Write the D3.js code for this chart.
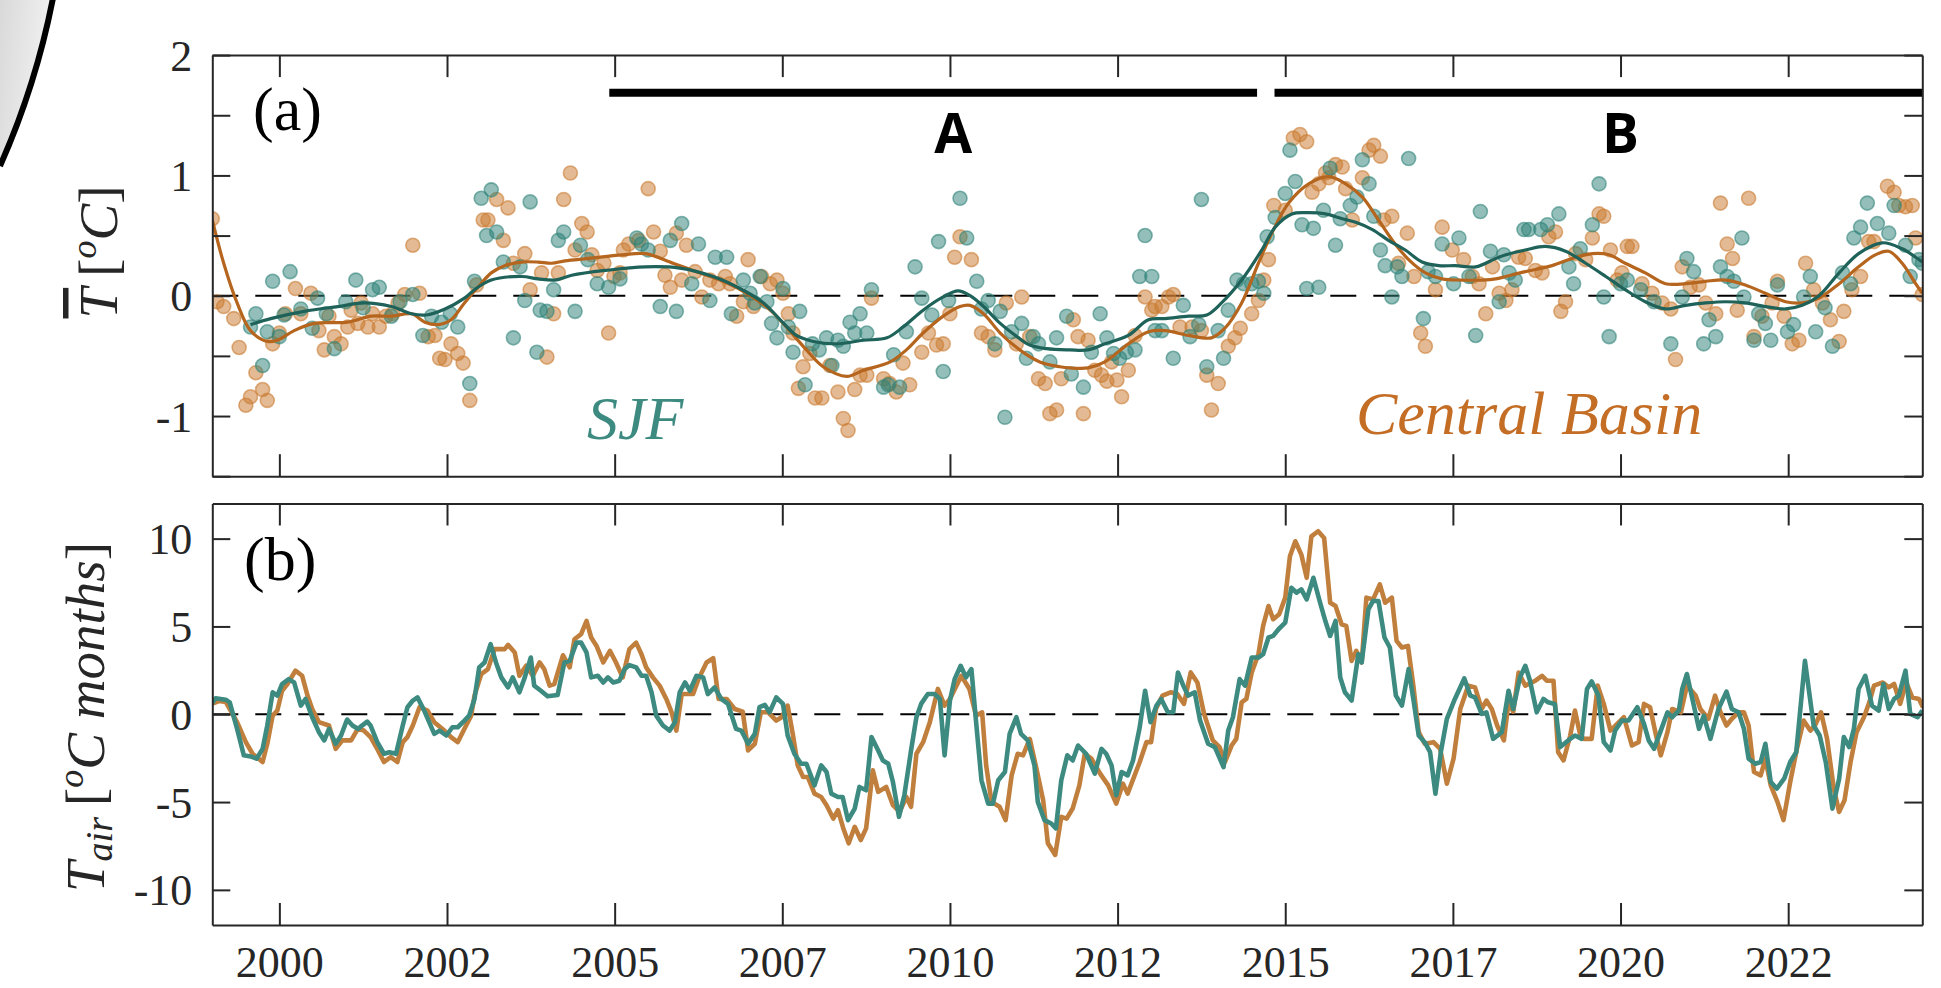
<!DOCTYPE html>
<html>
<head>
<meta charset="utf-8">
<script src="https://cdn.jsdelivr.net/npm/d3@7"></script>
<style>
  html, body { margin: 0; padding: 0; background: #ffffff; }
  svg { display: block; }
  svg text { font-family: "Liberation Serif"; }
</style>
</head>
<body>
<svg id="chart" width="1941" height="988"></svg>
<script>
// ---------------- DATA ----------------
const xTickValues = [2000, 2002.5, 2005, 2007.5, 2010, 2012.5, 2015, 2017.5, 2020, 2022.5];
const xTickLabels = ["2000", "2002", "2005", "2007", "2010", "2012", "2015", "2017", "2020", "2022"];
const aTickValues = [-1.5, -1, -0.5, 0, 0.5, 1, 1.5, 2];
const aTickLabels = ["", "-1", "", "0", "", "1", "", "2"];
const bTickValues = [-10, -5, 0, 5, 10];
const bTickLabels = ["-10", "-5", "0", "5", "10"];

const periodNames = ["A", "B"];
const periodStart = [2004.92, 2014.84];
const periodEnd = [2014.58, 2024.5];
const periodLabelAt = [2010.05, 2020.0];

// panel (a) scatter: Central Basin [year, T anomaly]
const cbPoints = [
[1999.00,0.64],[1999.07,-0.05],[1999.17,-0.09],[1999.32,-0.19],[1999.40,-0.43],[1999.50,-0.91],[1999.57,-0.84],[1999.65,-0.64],[1999.75,-0.78],[1999.82,-0.87],[1999.90,-0.40],[2000.00,-0.31],[2000.09,-0.15],[2000.24,0.06],[2000.32,-0.15],[2000.47,0.02],[2000.59,-0.29],[2000.67,-0.45],[2000.74,-0.17],[2000.82,-0.34],[2000.92,-0.40],[2001.02,-0.26],[2001.07,-0.12],[2001.17,-0.23],[2001.22,-0.06],[2001.32,-0.26],[2001.39,-0.15],[2001.49,-0.26],[2001.59,-0.17],[2001.69,-0.15],[2001.77,-0.06],[2001.87,0.01],[2001.99,0.42],[2002.09,0.02],[2002.22,-0.34],[2002.32,-0.33],[2002.39,-0.52],[2002.47,-0.53],[2002.56,-0.40],[2002.66,-0.48],[2002.74,-0.56],[2002.84,-0.87],[2002.94,0.09],[2003.04,0.63],[2003.11,0.63],[2003.24,0.80],[2003.34,0.46],[2003.41,0.73],[2003.49,0.27],[2003.66,0.35],[2003.74,0.05],[2003.91,0.19],[2003.99,-0.51],[2004.09,-0.15],[2004.16,0.19],[2004.24,0.80],[2004.34,1.02],[2004.41,0.38],[2004.51,0.60],[2004.59,0.53],[2004.66,0.34],[2004.74,0.21],[2004.84,0.27],[2004.91,-0.31],[2004.99,0.16],[2005.08,0.19],[2005.13,0.38],[2005.21,0.43],[2005.36,0.46],
[2005.50,0.89],[2005.58,0.53],[2005.68,0.37],[2005.75,0.17],[2005.83,0.07],[2005.92,0.52],[2006.00,0.13],[2006.07,0.42],[2006.20,0.20],[2006.30,-0.01],[2006.42,0.13],[2006.55,0.10],[2006.65,0.16],[2006.72,0.10],[2006.82,-0.17],[2006.92,-0.05],[2006.99,0.30],[2007.07,-0.09],[2007.19,0.16],[2007.32,0.10],[2007.42,0.13],[2007.51,0.02],[2007.59,-0.15],[2007.66,-0.31],[2007.74,-0.77],[2007.81,-0.59],[2007.91,-0.48],[2007.99,-0.85],[2008.09,-0.85],[2008.21,-0.58],[2008.33,-0.80],[2008.41,-1.02],[2008.48,-1.12],[2008.58,-0.78],[2008.66,-0.66],[2008.76,-0.66],[2008.83,-0.02],[2009.01,-0.69],[2009.10,-0.73],[2009.20,-0.80],[2009.30,-0.56],[2009.40,-0.74],[2009.58,-0.47],[2009.68,-0.31],[2009.80,-0.41],[2009.90,-0.40],[2010.00,-0.15],[2010.07,0.32],[2010.15,0.49],[2010.32,0.30],[2010.47,-0.31],[2010.57,-0.34],[2010.67,-0.45],[2010.84,-0.06],[2010.99,-0.40],[2011.07,-0.01],[2011.19,-0.34],[2011.32,-0.69],[2011.42,-0.73],[2011.49,-0.98],[2011.59,-0.95],[2011.66,-0.69],
[2011.84,-0.20],[2011.91,-0.34],[2011.99,-0.98],[2012.06,-0.37],[2012.16,-0.62],[2012.26,-0.66],[2012.34,-0.71],[2012.41,-0.55],[2012.49,-0.70],[2012.56,-0.84],[2012.66,-0.62],[2012.76,-0.33],[2012.91,-0.01],[2013.01,-0.12],[2013.06,-0.09],[2013.16,-0.09],[2013.26,-0.01],[2013.33,0.01],[2013.43,-0.26],[2013.61,-0.26],[2013.75,-0.29],[2013.83,-0.66],[2013.90,-0.95],[2014.00,-0.73],[2014.15,-0.42],[2014.25,-0.35],[2014.33,-0.27],[2014.50,-0.15],[2014.60,-0.04],[2014.68,0.13],[2014.75,0.30],[2014.83,0.75],[2015.00,0.71],[2015.12,1.31],[2015.22,1.34],[2015.32,1.28],[2015.40,0.86],[2015.50,0.93],[2015.60,1.02],[2015.65,0.98],[2015.75,1.09],[2015.85,1.07],[2015.90,0.89],[2016.00,0.63],[2016.15,0.98],[2016.25,1.21],[2016.32,1.25],[2016.42,1.16],[2016.47,0.63],[2016.59,0.66],[2016.69,0.27],[2016.82,0.52],[2016.92,0.16],[2017.02,-0.31],[2017.09,-0.42],[2017.24,0.05],[2017.34,0.57],[2017.49,0.38],[2017.66,0.30],[2017.79,0.16],[2017.89,0.10],[2017.99,-0.15],[2018.09,0.24],
[2018.19,0.02],[2018.29,-0.04],[2018.38,0.05],[2018.48,0.32],[2018.58,0.31],[2018.73,0.21],[2018.83,0.19],[2018.93,0.49],[2019.03,0.53],[2019.11,-0.13],[2019.18,-0.05],[2019.33,0.35],[2019.48,0.30],[2019.58,0.48],[2019.68,0.68],[2019.75,0.66],[2019.85,0.38],[2019.95,0.13],[2020.02,0.19],[2020.10,0.41],[2020.17,0.41],[2020.32,0.10],[2020.47,0.02],[2020.62,-0.06],[2020.75,-0.11],[2020.82,-0.53],[2020.92,0.24],[2021.04,0.07],[2021.17,0.09],[2021.27,-0.06],[2021.42,-0.15],[2021.49,0.77],[2021.59,0.43],[2021.67,0.31],[2021.74,-0.12],[2021.91,0.81],[2021.99,-0.34],[2022.11,-0.17],[2022.26,-0.06],[2022.34,0.12],[2022.44,-0.17],[2022.56,-0.40],[2022.66,-0.37],[2022.76,0.27],[2022.88,0.05],[2023.01,-0.06],[2023.13,-0.20],[2023.26,-0.38],[2023.33,-0.13],[2023.45,0.05],[2023.58,0.16],[2023.70,0.45],[2023.78,0.45],[2023.98,0.91],[2024.08,0.86],[2024.15,0.75],[2024.25,0.74],[2024.35,0.75],[2024.40,0.48],[2024.50,0.01]
];

// panel (a) scatter: SJF [year, T anomaly]
const sjfPoints = [
[1999.57,-0.26],[1999.65,-0.15],[1999.75,-0.58],[1999.82,-0.30],[1999.90,0.12],[2000.00,-0.34],[2000.07,-0.16],[2000.16,0.20],[2000.32,-0.11],[2000.49,-0.27],[2000.57,-0.02],[2000.70,-0.15],[2000.82,-0.44],[2000.99,-0.05],[2001.14,0.13],[2001.25,-0.10],[2001.39,0.05],[2001.49,0.07],[2001.67,-0.17],[2001.80,-0.05],[2001.99,0.01],[2002.14,-0.33],[2002.27,-0.17],[2002.42,-0.22],[2002.55,-0.15],[2002.66,-0.26],[2002.84,-0.73],[2002.91,0.12],[2003.01,0.81],[2003.09,0.50],[2003.16,0.88],[2003.24,0.53],[2003.34,0.28],[2003.49,-0.35],[2003.59,0.24],[2003.66,-0.04],[2003.74,0.78],[2003.84,-0.47],[2003.89,-0.12],[2003.99,-0.13],[2004.09,0.05],[2004.16,0.46],[2004.24,0.53],[2004.41,-0.13],[2004.49,0.42],[2004.60,0.30],[2004.74,0.10],[2004.91,0.07],[2005.08,0.14],[2005.33,0.48],
[2005.40,0.43],[2005.50,0.38],[2005.68,-0.09],[2005.83,0.46],[2005.92,-0.13],[2006.00,0.60],[2006.15,0.10],[2006.25,0.43],[2006.42,-0.04],[2006.50,0.32],[2006.67,0.32],[2006.74,-0.15],[2006.92,0.13],[2007.02,0.02],[2007.09,-0.06],[2007.17,0.16],[2007.27,-0.05],[2007.34,-0.23],[2007.42,-0.35],[2007.51,0.06],[2007.59,-0.26],[2007.66,-0.47],[2007.76,-0.13],[2007.84,-0.74],[2007.95,-0.40],[2008.05,-0.45],[2008.16,-0.35],[2008.24,-0.58],[2008.33,-0.37],[2008.41,-0.42],[2008.51,-0.22],[2008.58,-0.31],[2008.66,-0.15],[2008.76,-0.31],[2008.83,0.05],[2009.01,-0.76],[2009.08,-0.74],[2009.16,-0.49],[2009.25,-0.76],[2009.35,-0.30],[2009.48,0.24],[2009.58,-0.02],[2009.73,-0.16],[2009.83,0.45],[2009.90,-0.63],[2009.98,-0.04],[2010.15,0.81],[2010.25,0.48],[2010.40,0.12],[2010.47,-0.11],[2010.57,-0.04],[2010.67,-0.40],[2010.75,-0.13],[2010.82,-1.01],[2010.92,-0.30],[2011.07,-0.23],[2011.14,-0.52],[2011.24,-0.34],[2011.32,-0.40],[2011.49,-0.55],[2011.59,-0.35],[2011.74,-0.17],
[2011.81,-0.65],[2011.99,-0.76],[2012.11,-0.47],[2012.24,-0.15],[2012.34,-0.35],[2012.44,-0.48],[2012.53,-0.52],[2012.63,-0.47],[2012.76,-0.45],[2012.83,0.16],[2012.91,0.50],[2013.01,0.16],[2013.06,-0.29],[2013.16,-0.29],[2013.33,-0.52],[2013.48,-0.08],[2013.58,-0.34],[2013.71,-0.24],[2013.75,0.80],[2013.83,-0.59],[2014.00,-0.29],[2014.08,-0.52],[2014.15,-0.12],[2014.28,0.13],[2014.38,0.10],[2014.50,0.10],[2014.60,0.12],[2014.68,0.02],[2014.73,0.49],[2014.85,0.65],[2015.00,0.85],[2015.07,1.21],[2015.15,0.95],[2015.25,0.59],[2015.32,0.06],[2015.42,0.56],[2015.50,0.07],[2015.57,0.71],[2015.67,1.06],[2015.75,0.42],[2015.82,0.64],[2015.97,0.75],[2016.07,0.82],[2016.15,1.13],[2016.25,0.93],[2016.32,0.66],[2016.42,0.38],[2016.49,0.25],[2016.59,-0.01],[2016.67,0.24],[2016.74,0.16],[2016.84,1.14],[2017.06,-0.19],[2017.13,0.20],[2017.24,0.16],[2017.34,0.43],[2017.51,0.10],[2017.59,0.48],[2017.74,0.16],[2017.84,-0.33],[2017.91,0.70],[2018.06,0.37],
[2018.19,-0.05],[2018.26,0.34],[2018.34,0.19],[2018.43,0.13],[2018.56,0.55],[2018.63,0.55],[2018.81,0.55],[2018.91,0.59],[2019.08,0.68],[2019.23,0.24],[2019.30,0.10],[2019.40,0.39],[2019.58,0.59],[2019.68,0.93],[2019.75,-0.01],[2019.83,-0.34],[2020.00,0.10],[2020.10,0.13],[2020.30,0.05],[2020.50,-0.05],[2020.75,-0.40],[2020.92,-0.01],[2020.99,0.31],[2021.09,0.20],[2021.24,-0.40],[2021.32,-0.20],[2021.42,-0.34],[2021.49,0.24],[2021.59,0.16],[2021.69,0.12],[2021.81,0.48],[2021.84,-0.01],[2021.99,-0.37],[2022.06,-0.15],[2022.16,-0.23],[2022.24,-0.37],[2022.34,0.09],[2022.49,-0.30],[2022.58,-0.24],[2022.73,-0.01],[2022.83,0.16],[2022.91,-0.30],[2023.05,-0.10],[2023.16,-0.42],[2023.31,0.19],[2023.43,0.10],[2023.48,0.48],[2023.58,0.57],[2023.68,0.77],[2023.83,0.60],[2024.00,0.52],[2024.08,0.75],[2024.25,0.42],[2024.32,0.16],[2024.45,0.30],[2024.50,0.27]
];

// panel (a) smoothed curves
const sjfSmooth = [
[1999.57,-0.24],[1999.87,-0.19],[2000.37,-0.13],[2000.87,-0.09],[2001.27,-0.06],[2001.67,-0.09],[2001.97,-0.15],[2002.19,-0.16],[2002.47,-0.11],[2002.76,-0.02],[2002.91,0.05],[2003.16,0.13],[2003.61,0.16],[2003.86,0.14],[2004.11,0.13],[2004.36,0.17],[2004.86,0.21],[2005.46,0.24],[2005.97,0.23],[2006.47,0.16],[2006.87,0.06],[2007.22,-0.06],[2007.47,-0.20],[2007.71,-0.33],[2007.96,-0.38],[2008.31,-0.40],[2008.71,-0.37],[2009.06,-0.35],[2009.30,-0.26],[2009.60,-0.12],[2009.90,-0.01],[2010.12,0.04],[2010.30,0.00],[2010.50,-0.09],[2010.75,-0.23],[2011.00,-0.34],[2011.19,-0.41],[2011.44,-0.44],[2011.79,-0.45],[2012.06,-0.45],[2012.31,-0.40],[2012.66,-0.33],[2012.96,-0.20],[2013.21,-0.19],[2013.56,-0.17],[2013.83,-0.16],[2014.05,-0.06],[2014.35,0.13],[2014.65,0.38],[2014.85,0.57],[2015.10,0.68],[2015.35,0.69],[2015.60,0.68],[2015.85,0.64],[2016.05,0.61],[2016.30,0.55],[2016.54,0.46],[2016.79,0.38],[2017.04,0.28],[2017.29,0.25],[2017.54,0.25],[2017.84,0.24],[2018.14,0.31],[2018.29,0.34],[2018.58,0.38],[2018.88,0.41],[2019.18,0.37],[2019.48,0.27],[2019.78,0.16],[2020.07,0.05],[2020.37,-0.05],[2020.67,-0.11],[2020.97,-0.08],[2021.27,-0.06],[2021.57,-0.05],[2021.86,-0.06],[2022.16,-0.09],[2022.46,-0.11],[2022.71,-0.08],[2022.96,0.00],[2023.26,0.19],[2023.55,0.35],[2023.90,0.44],[2024.20,0.39],[2024.40,0.32],[2024.50,0.28]
];
const cbSmooth = [
[1999.00,0.63],[1999.17,0.27],[1999.37,-0.06],[1999.57,-0.29],[1999.82,-0.38],[1999.97,-0.37],[2000.22,-0.29],[2000.52,-0.23],[2001.02,-0.22],[2001.37,-0.17],[2001.67,-0.17],[2001.97,-0.15],[2002.17,-0.22],[2002.37,-0.24],[2002.56,-0.20],[2002.76,-0.06],[2002.96,0.07],[2003.16,0.19],[2003.36,0.25],[2003.61,0.28],[2003.86,0.28],[2004.06,0.27],[2004.26,0.29],[2004.61,0.31],[2005.11,0.34],[2005.46,0.35],[2005.87,0.27],[2006.22,0.20],[2006.62,0.12],[2006.97,0.02],[2007.32,-0.12],[2007.56,-0.26],[2007.86,-0.45],[2008.11,-0.59],[2008.46,-0.67],[2008.71,-0.62],[2009.11,-0.55],[2009.35,-0.45],[2009.60,-0.31],[2009.90,-0.17],[2010.15,-0.09],[2010.30,-0.08],[2010.50,-0.15],[2010.75,-0.31],[2011.04,-0.45],[2011.34,-0.55],[2011.64,-0.59],[2011.79,-0.60],[2012.06,-0.60],[2012.31,-0.55],[2012.66,-0.40],[2012.96,-0.30],[2013.21,-0.29],[2013.56,-0.33],[2013.90,-0.35],[2014.10,-0.27],[2014.35,-0.06],[2014.60,0.27],[2014.80,0.52],[2015.05,0.77],[2015.35,0.93],[2015.65,0.99],[2015.90,0.93],[2016.15,0.82],[2016.39,0.63],[2016.64,0.43],[2016.84,0.30],[2017.09,0.19],[2017.34,0.14],[2017.64,0.13],[2017.94,0.13],[2018.14,0.14],[2018.29,0.16],[2018.58,0.20],[2018.98,0.25],[2019.28,0.31],[2019.58,0.35],[2019.83,0.34],[2020.07,0.27],[2020.37,0.19],[2020.67,0.10],[2020.97,0.10],[2021.27,0.12],[2021.57,0.13],[2021.86,0.09],[2022.16,0.02],[2022.46,-0.05],[2022.71,-0.06],[2022.96,-0.02],[2023.26,0.10],[2023.55,0.24],[2023.80,0.34],[2024.00,0.37],[2024.20,0.27],[2024.40,0.10],[2024.50,0.02]
];

// panel (b): cumulative air temperature anomaly [year, degC months]
const sjfAir = [
[1998.99,0.59],[1999.05,0.91],[1999.20,0.83],[1999.26,0.68],[1999.37,-0.83],[1999.47,-2.34],[1999.57,-2.40],[1999.66,-2.53],[1999.75,-1.97],[1999.82,-0.64],[1999.90,1.25],[1999.97,1.06],[2000.04,1.72],[2000.14,2.00],[2000.22,1.81],[2000.32,0.49],[2000.39,0.87],[2000.49,-0.17],[2000.59,-1.02],[2000.67,-1.49],[2000.74,-0.83],[2000.84,-1.68],[2000.92,-1.21],[2001.01,-0.30],[2001.09,-0.64],[2001.17,-0.83],[2001.31,-0.42],[2001.36,-0.64],[2001.46,-1.59],[2001.56,-2.25],[2001.64,-2.16],[2001.74,-2.25],[2001.84,-0.64],[2001.91,0.40],[2001.99,0.78],[2002.06,0.96],[2002.16,0.21],[2002.31,-1.12],[2002.39,-0.93],[2002.49,-1.21],[2002.58,-0.74],[2002.66,-0.74],[2002.76,-0.36],[2002.83,-0.08],[2002.91,0.87],[2002.98,2.67],[2003.06,2.95],[2003.15,3.99],[2003.23,2.95],[2003.31,2.10],[2003.41,1.53],[2003.48,2.10],[2003.58,1.25],[2003.66,2.10],[2003.75,3.23],[2003.80,1.63],[2003.90,1.34],[2004.00,1.02],[2004.15,1.10],[2004.25,2.95],[2004.33,3.04],[2004.43,4.08],[2004.50,4.08],[2004.58,3.52],[2004.65,2.10],[2004.75,2.19],[2004.83,1.81],[2004.90,2.10],[2004.98,1.81],[2005.07,1.91],[2005.15,2.57],[2005.22,2.80],[2005.32,2.67],[2005.40,2.19],[2005.47,2.19],[2005.55,1.25],[2005.62,-0.08],[2005.72,-0.64],[2005.82,-0.93],[2005.90,-0.45],[2005.97,1.25],[2006.05,1.81],[2006.12,1.34],[2006.22,2.19],[2006.32,2.10],[2006.39,1.15],
[2006.49,1.53],[2006.59,0.87],[2006.69,0.59],[2006.81,-0.83],[2006.89,-0.93],[2006.99,-1.68],[2007.09,-1.12],[2007.16,0.40],[2007.24,0.53],[2007.31,0.11],[2007.41,0.96],[2007.51,0.59],[2007.58,-1.21],[2007.68,-2.25],[2007.78,-2.82],[2007.86,-2.82],[2007.98,-4.05],[2008.08,-2.91],[2008.16,-3.29],[2008.23,-4.52],[2008.33,-4.71],[2008.40,-4.71],[2008.48,-6.03],[2008.58,-5.37],[2008.65,-4.14],[2008.75,-4.33],[2008.83,-1.30],[2008.93,-2.06],[2009.00,-2.63],[2009.08,-2.82],[2009.15,-3.86],[2009.24,-5.84],[2009.32,-4.61],[2009.42,-2.06],[2009.50,-0.17],[2009.57,0.59],[2009.67,1.15],[2009.77,1.15],[2009.85,0.87],[2009.92,-2.34],[2010.00,0.78],[2010.07,2.00],[2010.16,2.76],[2010.24,2.10],[2010.32,2.57],[2010.39,-0.45],[2010.47,-3.76],[2010.57,-5.09],[2010.64,-5.09],[2010.72,-3.76],[2010.82,-3.29],[2010.89,-1.12],[2010.99,-0.17],[2011.06,-1.12],[2011.16,-1.49],[2011.26,-2.91],[2011.31,-4.99],[2011.41,-6.03],[2011.51,-6.22],[2011.58,-6.50],[2011.66,-3.76],[2011.75,-2.34],[2011.83,-2.63],[2011.91,-1.78],[2012.03,-2.25],[2012.16,-3.38],[2012.26,-1.97],[2012.33,-2.25],[2012.41,-2.91],[2012.48,-4.61],[2012.56,-3.29],[2012.65,-3.48],[2012.73,-2.63],[2012.83,-0.74],[2012.91,1.34],[2012.99,-0.45],[2013.08,0.49],[2013.15,0.87],[2013.25,0.11],[2013.33,0.11],[2013.40,2.38],[2013.48,1.63],[2013.55,1.06],[2013.65,1.25],[2013.73,-0.36],[2013.85,-1.68],[2013.95,-1.87],[2014.08,-3.01],
[2014.15,-0.93],[2014.22,-0.17],[2014.32,2.00],[2014.40,1.63],[2014.50,3.23],[2014.60,3.23],[2014.67,3.42],[2014.75,4.37],[2014.82,4.46],[2014.90,4.84],[2015.00,5.22],[2015.09,7.20],[2015.17,6.92],[2015.24,7.11],[2015.32,6.54],[2015.42,7.77],[2015.52,6.35],[2015.59,5.41],[2015.67,4.46],[2015.75,5.31],[2015.82,2.10],[2015.89,1.25],[2015.99,0.78],[2016.09,3.42],[2016.14,2.95],[2016.24,5.97],[2016.31,6.45],[2016.39,6.45],[2016.48,4.37],[2016.56,3.80],[2016.65,1.06],[2016.74,0.49],[2016.84,2.57],[2016.91,0.87],[2016.99,-1.21],[2017.08,-1.59],[2017.16,-2.16],[2017.24,-4.52],[2017.32,-2.16],[2017.41,-0.26],[2017.53,0.87],[2017.67,2.04],[2017.76,1.06],[2017.83,0.96],[2017.93,0.02],[2018.00,0.11],[2018.10,-1.40],[2018.23,-1.02],[2018.33,1.34],[2018.40,0.30],[2018.50,2.10],[2018.58,2.76],[2018.65,1.91],[2018.75,0.11],[2018.85,0.87],[2018.92,0.68],[2019.02,0.59],[2019.10,-1.87],[2019.22,-1.49],[2019.32,-1.21],[2019.42,-1.40],[2019.50,1.44],[2019.57,1.87],[2019.67,1.06],[2019.75,-1.59],[2019.85,-2.06],[2019.92,-0.93],[2020.02,-0.36],[2020.12,-0.36],[2020.25,0.40],[2020.35,-0.55],[2020.42,-1.49],[2020.50,-1.97],[2020.60,-0.93],[2020.70,0.11],[2020.77,-0.17],[2020.87,0.21],[2020.92,1.44],[2020.99,2.29],[2021.06,1.06],
[2021.17,-0.83],[2021.24,-0.08],[2021.34,-1.40],[2021.46,0.30],[2021.58,1.29],[2021.66,0.30],[2021.76,0.11],[2021.84,-0.83],[2021.91,-2.53],[2022.01,-2.82],[2022.09,-2.72],[2022.16,-1.68],[2022.24,-3.86],[2022.33,-4.23],[2022.44,-3.67],[2022.53,-2.72],[2022.62,-2.16],[2022.75,3.04],[2022.88,-0.64],[2022.97,-1.21],[2023.06,-2.72],[2023.16,-5.37],[2023.26,-3.67],[2023.33,-1.30],[2023.41,-1.87],[2023.48,-0.83],[2023.55,1.44],[2023.65,2.19],[2023.75,0.49],[2023.85,0.21],[2023.92,1.72],[2024.00,0.30],[2024.08,0.87],[2024.15,1.06],[2024.25,2.48],[2024.32,0.02],[2024.43,-0.17],[2024.50,0.21]
];
const cbAir = [
[1998.99,0.59],[1999.10,0.75],[1999.20,0.70],[1999.37,-0.45],[1999.50,-1.59],[1999.60,-2.25],[1999.75,-2.72],[1999.82,-1.68],[1999.90,-0.08],[1999.97,0.21],[2000.04,1.34],[2000.12,1.72],[2000.24,2.48],[2000.34,2.19],[2000.42,1.06],[2000.49,0.30],[2000.59,-0.45],[2000.74,-0.64],[2000.84,-1.97],[2000.94,-1.49],[2001.07,-1.49],[2001.17,-0.83],[2001.26,-0.93],[2001.36,-1.30],[2001.46,-1.97],[2001.56,-2.72],[2001.66,-2.44],[2001.76,-2.72],[2001.84,-1.59],[2001.91,-1.30],[2001.99,-0.64],[2002.09,0.40],[2002.21,0.21],[2002.31,-0.45],[2002.46,-0.93],[2002.56,-1.30],[2002.66,-1.59],[2002.76,-0.83],[2002.86,-0.08],[2002.91,1.06],[2003.01,2.29],[2003.11,2.57],[2003.21,3.71],[2003.36,3.71],[2003.41,3.95],[2003.51,3.52],[2003.58,2.19],[2003.68,2.76],[2003.78,2.19],[2003.88,2.95],[2003.95,2.57],[2004.03,1.63],[2004.10,1.72],[2004.23,3.36],[2004.33,2.67],[2004.40,4.27],[2004.50,4.56],[2004.58,5.31],[2004.65,4.37],[2004.73,3.89],[2004.83,2.95],[2004.93,3.61],[2005.02,2.95],[2005.12,2.10],[2005.22,3.71],[2005.32,4.08],[2005.40,3.42],[2005.47,2.67],[2005.57,2.10],[2005.67,1.63],[2005.77,0.87],[2005.85,0.11],[2005.92,-0.93],[2006.00,1.15],[2006.17,1.15],[2006.25,2.00],[2006.37,2.95],[2006.47,3.19],
[2006.55,0.87],[2006.67,0.87],[2006.79,0.30],[2006.91,0.15],[2006.99,-2.06],[2007.09,-1.68],[2007.18,0.11],[2007.29,0.11],[2007.41,-0.36],[2007.49,-0.17],[2007.58,0.49],[2007.66,-1.21],[2007.73,-2.91],[2007.81,-3.57],[2007.88,-3.57],[2007.98,-4.52],[2008.08,-4.71],[2008.16,-5.18],[2008.26,-5.94],[2008.33,-5.46],[2008.41,-6.50],[2008.49,-7.35],[2008.58,-6.41],[2008.67,-7.16],[2008.75,-6.50],[2008.85,-3.19],[2008.93,-4.42],[2009.05,-4.14],[2009.15,-5.18],[2009.25,-5.56],[2009.35,-4.71],[2009.42,-5.27],[2009.50,-2.25],[2009.60,-1.59],[2009.70,-0.45],[2009.82,1.44],[2009.92,0.49],[2010.00,0.87],[2010.17,2.19],[2010.29,1.44],[2010.39,-0.08],[2010.48,0.11],[2010.54,-2.91],[2010.62,-4.99],[2010.74,-5.27],[2010.83,-6.03],[2010.92,-3.48],[2011.01,-2.25],[2011.09,-2.34],[2011.19,-1.40],[2011.29,-3.10],[2011.39,-4.90],[2011.46,-7.35],[2011.57,-8.01],[2011.66,-5.84],[2011.74,-5.94],[2011.83,-5.37],[2011.93,-4.05],[2012.01,-2.25],[2012.11,-2.53],[2012.24,-3.38],[2012.36,-4.05],[2012.48,-5.09],[2012.58,-3.95],[2012.65,-4.52],[2012.83,-2.72],[2012.93,-1.59],[2013.00,-1.59],[2013.07,0.30],[2013.17,1.06],[2013.29,1.25],[2013.39,1.15],[2013.49,0.59],[2013.59,2.38],[2013.69,1.81],[2013.79,0.02],[2013.92,-1.49],[2014.02,-1.87],
[2014.10,-2.72],[2014.20,-1.78],[2014.27,-1.40],[2014.35,0.68],[2014.42,0.87],[2014.50,2.38],[2014.60,3.42],[2014.67,5.03],[2014.75,6.16],[2014.82,5.41],[2014.91,5.69],[2015.00,6.64],[2015.07,9.00],[2015.15,9.85],[2015.24,9.09],[2015.32,7.77],[2015.39,10.13],[2015.49,10.42],[2015.58,10.04],[2015.67,6.35],[2015.75,6.16],[2015.84,5.12],[2015.91,5.03],[2015.99,3.04],[2016.06,3.61],[2016.14,2.95],[2016.21,6.64],[2016.31,6.54],[2016.41,7.39],[2016.49,6.35],[2016.59,6.64],[2016.66,4.18],[2016.74,3.80],[2016.83,3.89],[2016.91,1.63],[2016.99,-1.02],[2017.08,-1.68],[2017.21,-1.59],[2017.31,-1.97],[2017.41,-3.95],[2017.51,-2.53],[2017.61,0.30],[2017.73,1.63],[2017.83,1.53],[2017.93,0.30],[2018.00,0.78],[2018.08,0.30],[2018.16,-0.64],[2018.26,-1.49],[2018.33,0.68],[2018.40,0.15],[2018.48,2.38],[2018.58,1.63],[2018.73,1.91],[2018.83,2.19],[2018.90,1.91],[2019.00,1.91],[2019.07,-2.16],[2019.15,-2.63],[2019.25,-1.21],[2019.32,0.21],[2019.40,-1.21],[2019.45,-1.40],[2019.57,-1.40],[2019.66,1.63],[2019.75,0.59],[2019.85,-0.93],[2019.95,-0.55],[2020.05,-0.17],[2020.17,-1.78],[2020.27,-1.59],[2020.35,0.59],[2020.44,0.40],[2020.53,-1.21],[2020.60,-2.34],[2020.70,-1.02],[2020.77,0.30],[2020.90,0.11],[2020.99,1.63],
[2021.12,1.06],[2021.19,0.30],[2021.31,-0.26],[2021.41,1.06],[2021.49,0.11],[2021.58,-0.64],[2021.66,-0.26],[2021.76,0.11],[2021.84,0.11],[2021.91,-0.64],[2021.99,-3.29],[2022.09,-3.48],[2022.16,-2.53],[2022.24,-4.05],[2022.34,-4.99],[2022.43,-6.03],[2022.53,-3.86],[2022.63,-1.97],[2022.73,-0.36],[2022.83,-0.93],[2022.90,-0.64],[2022.99,0.11],[2023.08,-1.40],[2023.18,-4.23],[2023.26,-5.56],[2023.34,-4.90],[2023.43,-2.72],[2023.52,-1.02],[2023.63,-0.17],[2023.71,0.68],[2023.78,1.63],[2023.91,1.81],[2024.00,1.53],[2024.08,1.72],[2024.17,0.59],[2024.26,1.81],[2024.35,0.96],[2024.45,0.87],[2024.51,0.40]
];

// ---------------- STYLE ----------------
const SERIF = '"Liberation Serif"';
const SANS = '"Open Sans"';
const C = {
  axis: "#262626",
  tealDot: "#2f8379", orangeDot: "#c97a30",
  tealSmooth: "#1f6259", orangeSmooth: "#b5651d",
  tealAir: "#3d8a80", orangeAir: "#c07f3d",
  tealText: "#3d8a80", orangeText: "#c46d25"
};

const svg = d3.select("#chart");
const X0 = 212.3, X1 = 1922.3;
const A_TOP = 55.1, A_BOT = 476.2;
const B_TOP = 503.5, B_BOT = 925;

const x = d3.scaleLinear().domain([1999, 2024.5]).range([X0, X1]);
const yA = d3.scaleLinear().domain([-1.5, 2]).range([A_BOT, A_TOP]);
const yB = d3.scaleLinear().domain([-12, 12]).range([B_BOT, B_TOP]);

function serifText(sel) { return sel.style("font-family", SERIF); }

// ---- left decoration (part of neighbouring figure) ----
const defs = svg.append("defs");
const grad = defs.append("linearGradient").attr("id", "gdeco")
  .attr("x1", "0").attr("y1", "0").attr("x2", "1").attr("y2", "0.3");
grad.append("stop").attr("offset", "0").attr("stop-color", "#d9d9d9");
grad.append("stop").attr("offset", "1").attr("stop-color", "#f2f2f2");
svg.append("path").attr("d", "M0,0 L53,0 Q36,85 0,166 Z").attr("fill", "url(#gdeco)");
svg.append("path").attr("d", "M53,-2 Q36,85 0,166").attr("fill", "none")
  .attr("stroke", "#000").attr("stroke-width", 6);

defs.append("clipPath").attr("id", "clipA").append("rect")
  .attr("x", X0).attr("y", A_TOP).attr("width", X1 - X0).attr("height", A_BOT - A_TOP);
defs.append("clipPath").attr("id", "clipB").append("rect")
  .attr("x", X0).attr("y", B_TOP).attr("width", X1 - X0).attr("height", B_BOT - B_TOP);

// ---------------- PANEL A ----------------
const gA = svg.append("g").attr("clip-path", "url(#clipA)");
gA.append("line").attr("x1", X0).attr("x2", X1).attr("y1", yA(0)).attr("y2", yA(0))
  .attr("stroke", "#000").attr("stroke-width", 2).attr("stroke-dasharray", "26,17");

function dots(data, color) {
  gA.append("g").selectAll("circle").data(data).join("circle")
    .attr("cx", d => x(d[0])).attr("cy", d => yA(d[1])).attr("r", 7)
    .attr("fill", color).attr("fill-opacity", 0.52)
    .attr("stroke", color).attr("stroke-opacity", 0.58).attr("stroke-width", 1.6);
}
dots(cbPoints, C.orangeDot);
dots(sjfPoints, C.tealDot);

const smoothLine = d3.line().x(d => x(d[0])).y(d => yA(d[1])).curve(d3.curveCatmullRom.alpha(0.5));
gA.append("path").datum(cbSmooth).attr("d", smoothLine).attr("fill", "none")
  .attr("stroke", C.orangeSmooth).attr("stroke-width", 3.2).attr("stroke-linejoin", "round");
gA.append("path").datum(sjfSmooth).attr("d", smoothLine).attr("fill", "none")
  .attr("stroke", C.tealSmooth).attr("stroke-width", 3.2).attr("stroke-linejoin", "round");

const periods = periodNames.map((n, i) => ({ n, s: periodStart[i], e: periodEnd[i], l: periodLabelAt[i] }));
svg.append("g").selectAll("line").data(periods).join("line")
  .attr("x1", d => x(d.s)).attr("x2", d => x(d.e)).attr("y1", 92.7).attr("y2", 92.7)
  .attr("stroke", "#000").attr("stroke-width", 8);
svg.append("g").selectAll("text").data(periods).join("text")
  .attr("x", d => x(d.l)).attr("y", 153).attr("text-anchor", "middle")
  .style("font-family", SANS).style("font-weight", 700)
  .style("font-size", "55px").attr("fill", "#000").text(d => d.n);

serifText(svg.append("text")).attr("x", 587).attr("y", 439).style("font-style", "italic")
  .style("font-size", "62px").attr("fill", C.tealText).text("SJF");
serifText(svg.append("text")).attr("x", 1356).attr("y", 434).style("font-style", "italic")
  .style("font-size", "62px").attr("fill", C.orangeText).text("Central Basin");

// ---------------- PANEL B ----------------
const gB = svg.append("g").attr("clip-path", "url(#clipB)");
gB.append("line").attr("x1", X0).attr("x2", X1).attr("y1", yB(0)).attr("y2", yB(0))
  .attr("stroke", "#000").attr("stroke-width", 2).attr("stroke-dasharray", "26,17");
const airLine = d3.line().x(d => x(d[0])).y(d => yB(d[1]));
gB.append("path").datum(cbAir).attr("d", airLine).attr("fill", "none")
  .attr("stroke", C.orangeAir).attr("stroke-width", 4.6).attr("stroke-linejoin", "round");
gB.append("path").datum(sjfAir).attr("d", airLine).attr("fill", "none")
  .attr("stroke", C.tealAir).attr("stroke-width", 4.6).attr("stroke-linejoin", "round");

// ---------------- AXES ----------------
function styleAxis(g) {
  g.attr("font-family", null);
  g.select(".domain").attr("stroke", C.axis).attr("stroke-width", 2);
  g.selectAll(".tick line").attr("stroke", C.axis).attr("stroke-width", 2);
  serifText(g.selectAll(".tick text")).attr("fill", "#262626").style("font-size", "44px");
}
function box(yScale, top, bot, tickVals, tickLabs, showX) {
  const gb = svg.append("g").attr("transform", `translate(0,${bot})`)
    .call(d3.axisBottom(x).tickValues(xTickValues).tickSizeInner(-22).tickSizeOuter(0)
      .tickFormat((d, i) => showX ? xTickLabels[i] : ""));
  styleAxis(gb);
  gb.selectAll(".tick text").attr("y", 52).attr("dy", null);
  const gt = svg.append("g").attr("transform", `translate(0,${top})`)
    .call(d3.axisTop(x).tickValues(xTickValues).tickSizeInner(-22).tickSizeOuter(0).tickFormat(""));
  styleAxis(gt);
  const gl = svg.append("g").attr("transform", `translate(${X0},0)`)
    .call(d3.axisLeft(yScale).tickValues(tickVals).tickSizeInner(-18).tickSizeOuter(0)
      .tickPadding(20).tickFormat((d, i) => tickLabs[i]));
  styleAxis(gl);
  gl.selectAll(".tick text").attr("dy", "0.34em");
  const gr = svg.append("g").attr("transform", `translate(${X1},0)`)
    .call(d3.axisRight(yScale).tickValues(tickVals).tickSizeInner(-18).tickSizeOuter(0).tickFormat(""));
  styleAxis(gr);
}
box(yA, A_TOP, A_BOT, aTickValues, aTickLabels, false);
box(yB, B_TOP, B_BOT, bTickValues, bTickLabels, true);

serifText(svg.append("text")).attr("x", 253).attr("y", 130).style("font-size", "62px").attr("fill", "#000").text("(a)");
serifText(svg.append("text")).attr("x", 244).attr("y", 580).style("font-size", "62px").attr("fill", "#000").text("(b)");

const la = serifText(svg.append("text")).attr("transform", "translate(117,252) rotate(-90)")
  .attr("text-anchor", "middle").style("font-size", "55px").attr("fill", "#262626");
la.append("tspan").style("font-style", "italic").style("text-decoration", "overline").text("T");
la.append("tspan").text("\u2009[");
la.append("tspan").style("font-style", "italic").style("font-size", "36px").attr("baseline-shift", "58%").text("o");
la.append("tspan").style("font-style", "italic").text("C");
la.append("tspan").text("]");

const lb = serifText(svg.append("text")).attr("transform", "translate(104,717) rotate(-90)")
  .attr("text-anchor", "middle").style("font-size", "55px").attr("fill", "#262626");
lb.append("tspan").style("font-style", "italic").text("T");
lb.append("tspan").style("font-style", "italic").style("font-size", "38px").attr("baseline-shift", "-22%").text("air");
lb.append("tspan").text("\u2009[");
lb.append("tspan").style("font-style", "italic").style("font-size", "36px").attr("baseline-shift", "58%").text("o");
lb.append("tspan").style("font-style", "italic").text("C months");
lb.append("tspan").text("]");
</script>
</body>
</html>
